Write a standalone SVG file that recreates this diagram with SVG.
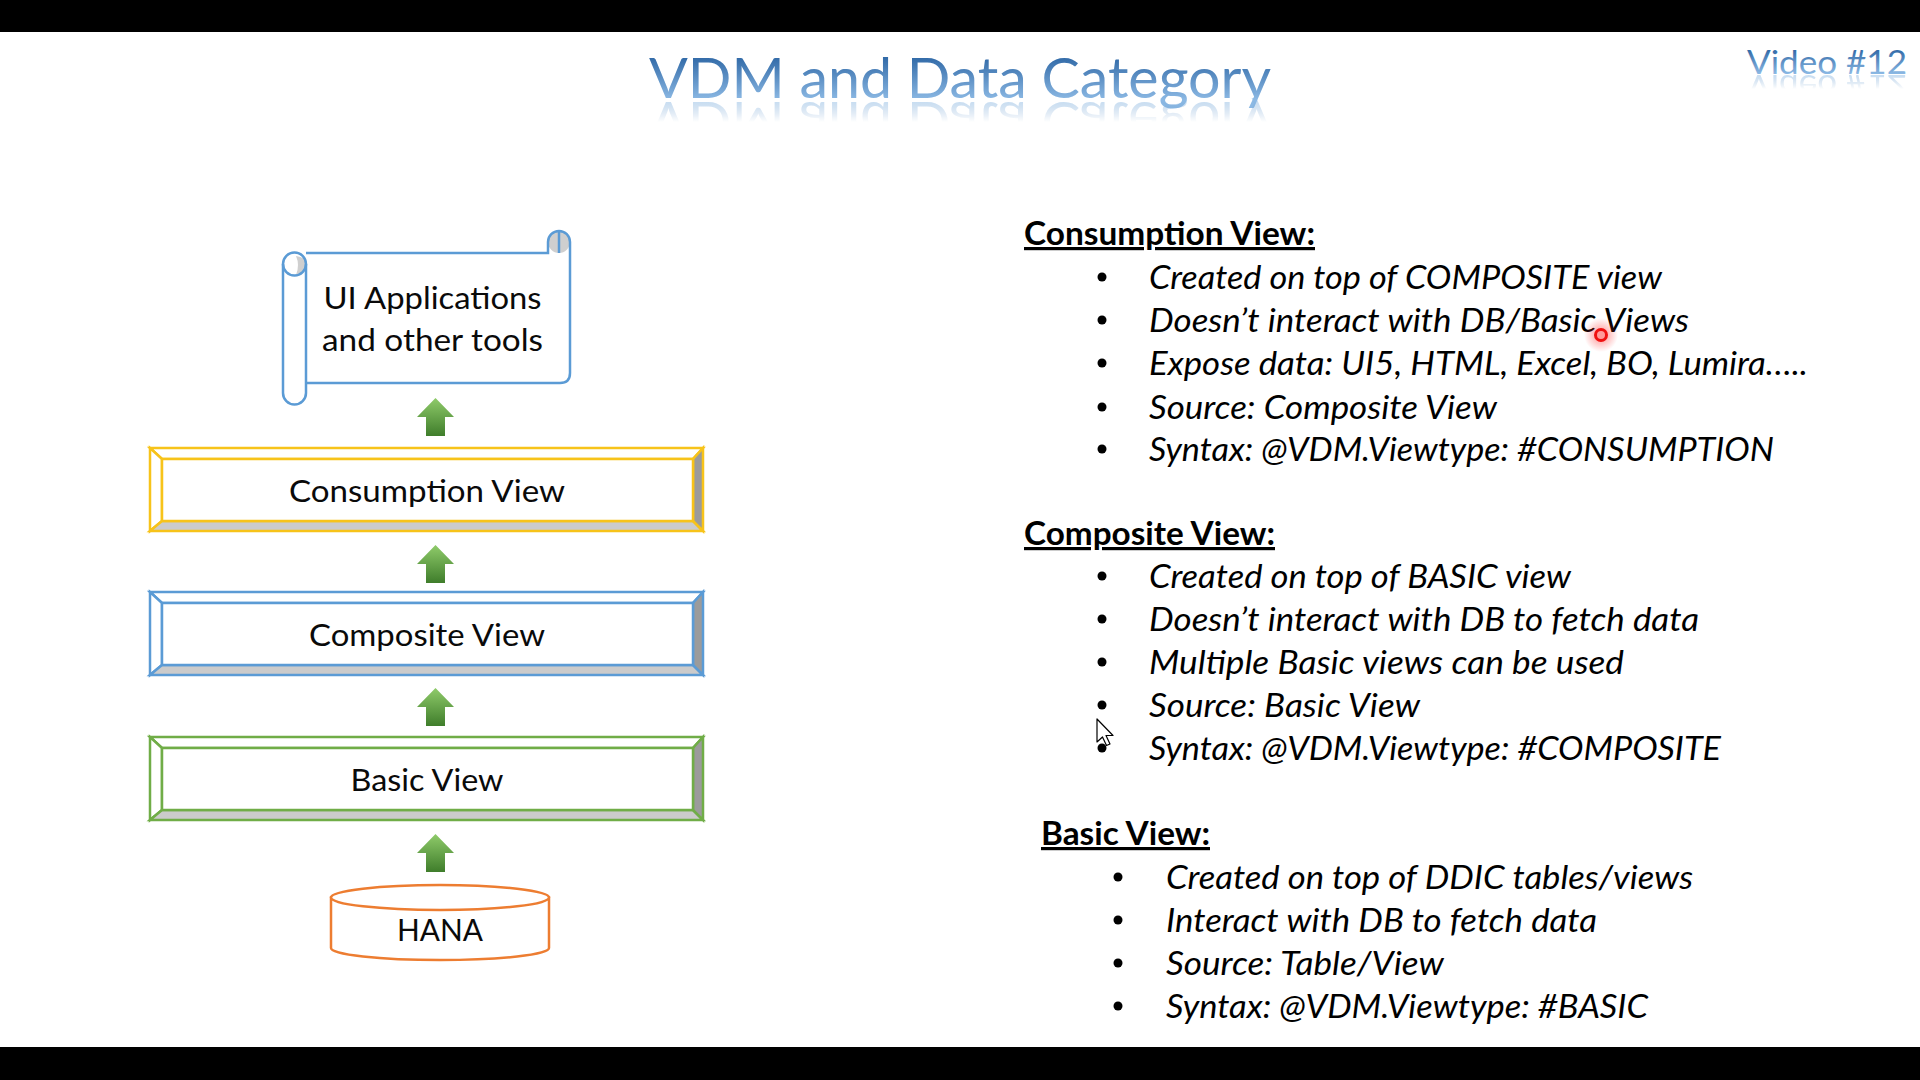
<svg xmlns="http://www.w3.org/2000/svg" xmlns:xlink="http://www.w3.org/1999/xlink" width="1920" height="1080" viewBox="0 0 1920 1080">
  <defs>
    <linearGradient id="titleGrad" gradientUnits="userSpaceOnUse" x1="0" y1="56" x2="0" y2="100">
      <stop offset="0" stop-color="#2f68a6"/>
      <stop offset="1" stop-color="#8cb9e4"/>
    </linearGradient>
    <linearGradient id="videoGrad" gradientUnits="userSpaceOnUse" x1="0" y1="49" x2="0" y2="74">
      <stop offset="0" stop-color="#2f68a6"/>
      <stop offset="1" stop-color="#8cb9e4"/>
    </linearGradient>
    <linearGradient id="reflFade" x1="0" y1="0" x2="0" y2="1">
      <stop offset="0" stop-color="#fff" stop-opacity="0.55"/>
      <stop offset="1" stop-color="#fff" stop-opacity="0"/>
    </linearGradient>
    <mask id="titleMask" maskUnits="userSpaceOnUse" x="600" y="98" width="720" height="26">
      <rect x="600" y="98" width="720" height="24" fill="url(#reflFade)"/>
    </mask>
    <mask id="videoMask" maskUnits="userSpaceOnUse" x="1700" y="73" width="220" height="20">
      <rect x="1700" y="73" width="220" height="16" fill="url(#reflFade)"/>
    </mask>
    <linearGradient id="arrowGrad" x1="0" y1="0" x2="0" y2="1">
      <stop offset="0" stop-color="#8fcb6a"/>
      <stop offset="1" stop-color="#3f7d2b"/>
    </linearGradient>
    <radialGradient id="glow">
      <stop offset="0" stop-color="#ff3030" stop-opacity="0.55"/>
      <stop offset="1" stop-color="#ff3030" stop-opacity="0"/>
    </radialGradient>
    <path id="arrowShape" d="M0,0 L18.5,19 H9.5 V38 H-9.5 V19 H-18.5 Z"/>
  </defs>
  <style>
    .bar { fill: #000; }
    .title { font-family: Lato, "Liberation Sans", sans-serif; font-weight: 400; }
    .lbl { font-family: Lato, "Liberation Sans", sans-serif; font-size: 31px; fill: #0a0a0a; text-anchor: middle; }
    .head { font-family: Lato, "Liberation Sans", sans-serif; font-size: 32px; font-weight: 700; fill: #000; text-decoration: underline; }
    .item { font-family: Lato, "Liberation Sans", sans-serif; font-size: 32px; font-style: italic; fill: #000; }
    .dot { fill: #000; }
    .bevTop { fill: #ffffff; }
    .bevLeft { fill: #ffffff; }
    .bevBot { fill: #cbcbcb; }
    .bevRight { fill: #9b9b9b; }
    .inner { fill: #ffffff; }
    .yel { stroke: #f7c31a; stroke-width: 2.5; stroke-linejoin: miter; }
    .blu { stroke: #5b9bd5; stroke-width: 2.5; stroke-linejoin: miter; }
    .grn { stroke: #70ad47; stroke-width: 2.5; stroke-linejoin: miter; }
    .scroll { fill: none; stroke: #5b9bd5; stroke-width: 2.5; }
    .arrow { fill: url(#arrowGrad); }
  </style>

  <rect x="0" y="0" width="1920" height="1080" fill="#ffffff"/>
  <rect class="bar" x="0" y="0" width="1920" height="32"/>
  <rect class="bar" x="0" y="1047" width="1920" height="33"/>

  <!-- Title -->
  <g id="title">
    <text id="titleText" class="title" x="649" y="98" font-size="56" fill="url(#titleGrad)" textLength="622" lengthAdjust="spacingAndGlyphs">VDM and Data Category</text>
    <g mask="url(#titleMask)">
      <use xlink:href="#titleText" href="#titleText" transform="translate(0,200) scale(1,-1)"/>
    </g>
  </g>
  <g id="video">
    <text id="videoText" class="title" x="1747" y="74" font-size="33" fill="url(#videoGrad)" textLength="160" lengthAdjust="spacingAndGlyphs">Video #12</text>
    <g mask="url(#videoMask)">
      <use xlink:href="#videoText" href="#videoText" transform="translate(0,149) scale(1,-1)"/>
    </g>
  </g>

  <!-- UI Applications scroll -->
  <g id="node-ui">
    <path d="M306,253 H569 V373 Q569,383 559,383 H306 Z" fill="#fff"/>
    <path d="M283,264 V393 A11.5,11.5 0 0 0 306,393 V264 Z" fill="#fff"/>
    <circle cx="559" cy="242" r="11" fill="#cfcfcf"/>
    <path class="scroll" d="M306,253 H548 V242 A11,11 0 0 1 570,242 V373 Q570,383 560,383 H306"/>
    <line class="scroll" x1="559" y1="232" x2="559" y2="253"/>
    <path d="M296,256 Q306,257 306,264 Q305,272 296,275 Q300,265 296,256 Z" fill="#cfcfcf"/>
    <path class="scroll" d="M306,383 V393 A11.5,11.5 0 0 1 283,393 V264 A11.5,11.5 0 0 1 306,264 V383"/>
    <path class="scroll" d="M283,264 A11.5,11.5 0 0 0 306,264"/>
    <text class="lbl" x="432.5" y="309" textLength="218" lengthAdjust="spacingAndGlyphs">UI Applications</text>
    <text class="lbl" x="432.5" y="351" textLength="221" lengthAdjust="spacingAndGlyphs">and other tools</text>
  </g>

  <!-- Consumption View -->
  <g id="node-consumption">
    <polygon class="bevTop yel" points="150,448 703,448 693,459 162,459"/>
    <polygon class="bevLeft yel" points="150,448 162,459 162,521 150,531"/>
    <polygon class="bevBot yel" points="150,531 162,521 693,521 703,531"/>
    <polygon class="bevRight yel" points="703,448 703,531 693,521 693,459"/>
    <rect class="inner yel" x="162" y="459" width="531" height="62"/>
    <text class="lbl" x="427" y="502" textLength="276" lengthAdjust="spacingAndGlyphs">Consumption View</text>
  </g>

  <!-- Composite View -->
  <g id="node-composite">
    <polygon class="bevTop blu" points="150,592 703,592 693,603 162,603"/>
    <polygon class="bevLeft blu" points="150,592 162,603 162,665 150,675"/>
    <polygon class="bevBot blu" points="150,675 162,665 693,665 703,675"/>
    <polygon class="bevRight blu" points="703,592 703,675 693,665 693,603"/>
    <rect class="inner blu" x="162" y="603" width="531" height="62"/>
    <text class="lbl" x="427" y="646" textLength="236" lengthAdjust="spacingAndGlyphs">Composite View</text>
  </g>

  <!-- Basic View -->
  <g id="node-basic">
    <polygon class="bevTop grn" points="150,737 703,737 693,748 162,748"/>
    <polygon class="bevLeft grn" points="150,737 162,748 162,810 150,820"/>
    <polygon class="bevBot grn" points="150,820 162,810 693,810 703,820"/>
    <polygon class="bevRight grn" points="703,737 703,820 693,810 693,748"/>
    <rect class="inner grn" x="162" y="748" width="531" height="62"/>
    <text class="lbl" x="427" y="791" textLength="153" lengthAdjust="spacingAndGlyphs">Basic View</text>
  </g>

  <!-- HANA -->
  <g id="node-hana">
    <path d="M331,897.5 V948 A109,12 0 0 0 549,948 V897.5 Z" fill="#fff" stroke="#ed7d31" stroke-width="2.5"/>
    <ellipse cx="440" cy="897.5" rx="109" ry="12.5" fill="#fff" stroke="#ed7d31" stroke-width="2.5"/>
    <text class="lbl" x="440" y="941" textLength="86" lengthAdjust="spacingAndGlyphs">HANA</text>
  </g>

  <!-- Connectors (green up arrows) -->
  <g id="connectors">
    <use xlink:href="#arrowShape" href="#arrowShape" class="arrow" transform="translate(435.5,398)"/>
    <use xlink:href="#arrowShape" href="#arrowShape" class="arrow" transform="translate(435.5,545)"/>
    <use xlink:href="#arrowShape" href="#arrowShape" class="arrow" transform="translate(435.5,688)"/>
    <use xlink:href="#arrowShape" href="#arrowShape" class="arrow" transform="translate(435.5,834)"/>
  </g>

  <!-- Right side description -->
  <g id="desc-consumption">
    <text class="head" x="1024" y="245" textLength="291" lengthAdjust="spacingAndGlyphs">Consumption View:</text>
    <circle class="dot" cx="1102" cy="277" r="4.5"/>
    <text class="item" x="1149" y="289" textLength="513" lengthAdjust="spacingAndGlyphs">Created on top of COMPOSITE view</text>
    <circle class="dot" cx="1102" cy="320" r="4.5"/>
    <text class="item" x="1149" y="332" textLength="540" lengthAdjust="spacingAndGlyphs">Doesn’t interact with DB/Basic Views</text>
    <circle class="dot" cx="1102" cy="363" r="4.5"/>
    <text class="item" x="1149" y="375" textLength="659" lengthAdjust="spacingAndGlyphs">Expose data: UI5, HTML, Excel, BO, Lumira…..</text>
    <circle class="dot" cx="1102" cy="407" r="4.5"/>
    <text class="item" x="1149" y="419" textLength="348" lengthAdjust="spacingAndGlyphs">Source: Composite View</text>
    <circle class="dot" cx="1102" cy="449" r="4.5"/>
    <text class="item" x="1149" y="461" textLength="625" lengthAdjust="spacingAndGlyphs">Syntax: @VDM.Viewtype: #CONSUMPTION</text>
  </g>

  <g id="desc-composite">
    <text class="head" x="1024" y="545" textLength="251" lengthAdjust="spacingAndGlyphs">Composite View:</text>
    <circle class="dot" cx="1102" cy="576" r="4.5"/>
    <text class="item" x="1149" y="588" textLength="422" lengthAdjust="spacingAndGlyphs">Created on top of BASIC view</text>
    <circle class="dot" cx="1102" cy="619" r="4.5"/>
    <text class="item" x="1149" y="631" textLength="550" lengthAdjust="spacingAndGlyphs">Doesn’t interact with DB to fetch data</text>
    <circle class="dot" cx="1102" cy="662" r="4.5"/>
    <text class="item" x="1149" y="674" textLength="475" lengthAdjust="spacingAndGlyphs">Multiple Basic views can be used</text>
    <circle class="dot" cx="1102" cy="705" r="4.5"/>
    <text class="item" x="1149" y="717" textLength="271" lengthAdjust="spacingAndGlyphs">Source: Basic View</text>
    <circle class="dot" cx="1102" cy="748" r="4.5"/>
    <text class="item" x="1149" y="760" textLength="572" lengthAdjust="spacingAndGlyphs">Syntax: @VDM.Viewtype: #COMPOSITE</text>
  </g>

  <g id="desc-basic">
    <text class="head" x="1041" y="845" textLength="169" lengthAdjust="spacingAndGlyphs">Basic View:</text>
    <circle class="dot" cx="1118" cy="877" r="4.5"/>
    <text class="item" x="1166" y="889" textLength="527" lengthAdjust="spacingAndGlyphs">Created on top of DDIC tables/views</text>
    <circle class="dot" cx="1118" cy="920" r="4.5"/>
    <text class="item" x="1166" y="932" textLength="431" lengthAdjust="spacingAndGlyphs">Interact with DB to fetch data</text>
    <circle class="dot" cx="1118" cy="963" r="4.5"/>
    <text class="item" x="1166" y="975" textLength="278" lengthAdjust="spacingAndGlyphs">Source: Table/View</text>
    <circle class="dot" cx="1118" cy="1006" r="4.5"/>
    <text class="item" x="1166" y="1018" textLength="482" lengthAdjust="spacingAndGlyphs">Syntax: @VDM.Viewtype: #BASIC</text>
  </g>

  <!-- Screen-recording pointer marks -->
  <g id="pointer">
    <circle cx="1601" cy="335" r="17" fill="url(#glow)"/>
    <circle cx="1601" cy="335" r="5.5" fill="#ff9a9a" stroke="#f01010" stroke-width="3"/>
  </g>
  <g id="cursor">
    <path d="M1097,719 V742 L1102.5,737 L1106.5,745.5 L1110,744 L1106,735.5 L1113,735.5 Z" fill="#fff" stroke="#000" stroke-width="1.2" stroke-linejoin="round"/>
  </g>
</svg>
